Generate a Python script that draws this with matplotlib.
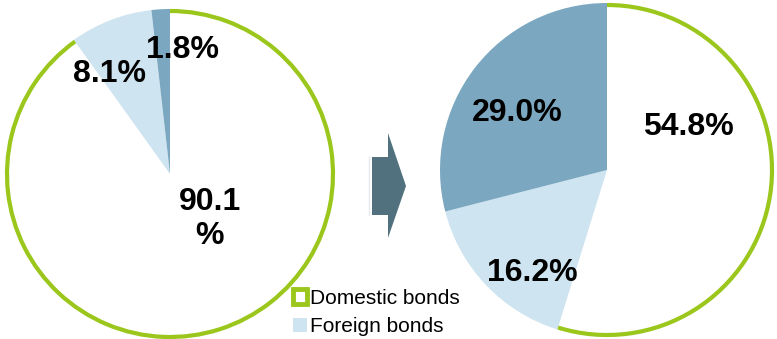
import matplotlib.pyplot as plt
from matplotlib.patches import Arc, Polygon, Patch

plt.rcParams['font.family'] = ['Liberation Sans', 'DejaVu Sans']

# portfolio split before / after
categories = ['Domestic bonds', 'Foreign bonds', 'Other assets']
before_share = [90.1, 8.1, 1.8]
after_share = [54.8, 16.2, 29.0]

colors = ['#ffffff', '#cfe4f1', '#7ba8c0']
green = '#9bc71c'
arrow_color = '#52717f'

W, H = 777, 339
fig = plt.figure(figsize=(W / 100, H / 100), dpi=100)
ax = fig.add_axes([0, 0, 1, 1])


def draw_pie(values, cx, cy, r, label_xy, wrap=()):
    ax.pie(values, colors=colors, startangle=90, counterclock=False,
           center=(cx, cy), radius=r, wedgeprops=dict(linewidth=0))
    # green rim only along the domestic share
    end = 90 - 360 * values[0] / sum(values)
    ax.add_patch(Arc((cx, cy), 2 * r - 4, 2 * r - 4, theta1=end, theta2=90,
                     color=green, lw=3))
    for i, (v, (x, y)) in enumerate(zip(values, label_xy)):
        txt = f'{v:.1f}%'
        if i in wrap:
            txt = txt.replace('%', '\n%')
        ax.text(x, H - y, txt, ha='center', va='center', fontsize=23,
                fontweight='bold', linespacing=1.2)


draw_pie(before_share, 170, H - 174, 165,
         [(210, 219), (109, 74), (183, 50)], wrap=(0,))
draw_pie(after_share, 607, H - 170, 167,
         [(688, 127), (532, 273), (517, 113)])

# arrow between the two pies
ax.plot([369, 369], [H - 157, H - 215], color='#e4eaee', lw=1)
ax.add_patch(Polygon([(372, H - 157), (388, H - 157), (388, H - 133),
                      (406, H - 186), (388, H - 238), (388, H - 215),
                      (372, H - 215)], closed=True, color=arrow_color, lw=0))

ax.set_xlim(0, W)
ax.set_ylim(0, H)
ax.set_aspect('equal')
ax.axis('off')

handles = [Patch(facecolor='white', edgecolor=green, linewidth=3.5),
           Patch(facecolor=colors[1], edgecolor='none')]
fig.legend(handles, categories[:2], loc='upper left',
           bbox_to_anchor=(293 / W, 1 - 289 / H), frameon=False,
           fontsize=15, handlelength=0.65, handleheight=0.7,
           handletextpad=0.15, labelspacing=0.45, borderpad=0,
           borderaxespad=0)

fig.savefig('out.png', dpi=100)
